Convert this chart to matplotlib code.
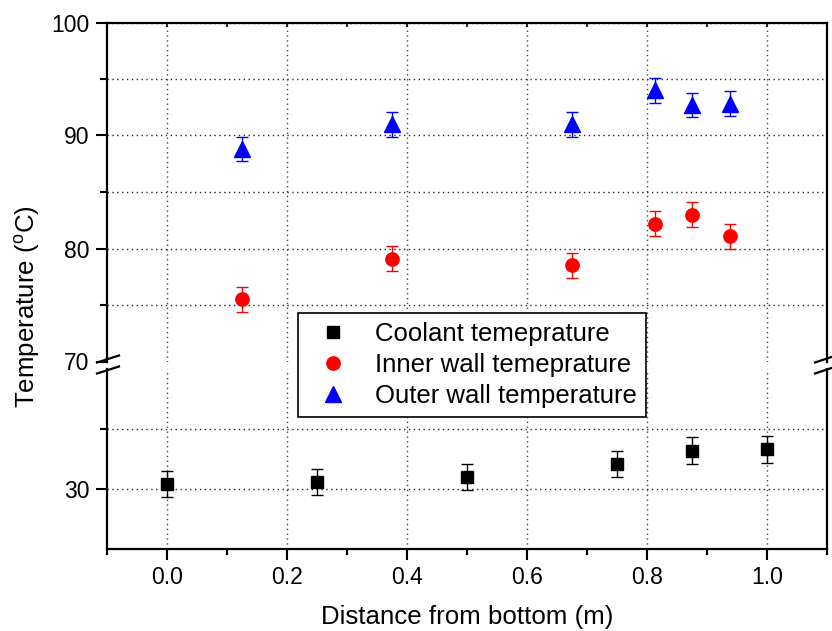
import numpy as np
import matplotlib
matplotlib.use('Agg')
import matplotlib.pyplot as plt
from matplotlib.lines import Line2D
from matplotlib.ticker import FixedLocator, MultipleLocator, FormatStrFormatter

plt.rcParams['font.family'] = ['Liberation Sans', 'DejaVu Sans']
plt.rcParams['mathtext.fontset'] = 'custom'
plt.rcParams['mathtext.rm'] = 'Liberation Sans'

# measured temperatures along the channel
coolant_x = [0.0, 0.25, 0.5, 0.75, 0.875, 1.0]
coolant_t = [30.4, 30.6, 31.0, 32.1, 33.2, 33.3]
coolant_err = [1.1, 1.1, 1.1, 1.1, 1.1, 1.1]

wall_x = [0.125, 0.375, 0.675, 0.8125, 0.875, 0.9375]
inner_t = [75.5, 79.1, 78.5, 82.2, 83.0, 81.1]
inner_err = [1.1, 1.1, 1.1, 1.1, 1.1, 1.1]
outer_t = [88.8, 91.0, 91.0, 94.0, 92.7, 92.8]
outer_err = [1.1, 1.1, 1.1, 1.1, 1.1, 1.1]

labels = ['Coolant temeprature', 'Inner wall temeprature', 'Outer wall temperature']

W, H = 832, 631
fig = plt.figure(figsize=(W / 100, H / 100), dpi=100)


def fx(px):
    return px / W


def fy(py):
    return 1 - py / H


left, right = fx(107), fx(827)
ax_hi = fig.add_axes([left, fy(361.5), right - left, fy(22.5) - fy(361.5)])
ax_lo = fig.add_axes([left, fy(549), right - left, fy(369) - fy(549)])

style = dict(linestyle='none', capsize=4.3, elinewidth=1, capthick=1)
for ax in (ax_hi, ax_lo):
    ax.errorbar(coolant_x, coolant_t, yerr=coolant_err, marker='s', ms=8.2,
                color='black', ecolor='black', **style)
    ax.errorbar(wall_x, inner_t, yerr=inner_err, marker='o', ms=9.6,
                color='#ff0000', ecolor='#ff0000', **style)
    ax.errorbar(wall_x, outer_t, yerr=outer_err, marker='^', ms=11,
                color='#0000ff', ecolor='#0000ff', **style)
    ax.set_xlim(-0.1, 1.1)
    ax.xaxis.set_major_locator(MultipleLocator(0.2))
    ax.xaxis.set_minor_locator(MultipleLocator(0.1))
    for s in ax.spines.values():
        s.set_linewidth(1.6)
    ax.tick_params(axis='y', which='both', direction='out', right=False,
                   width=1.5, labelsize=16.5, pad=5)
    ax.tick_params(axis='y', which='major', length=7.7)
    ax.tick_params(axis='y', which='minor', length=5)
    ax.grid(True, axis='x', which='major', linestyle=(0, (1, 2.5)), color='0.25', lw=1)
    ax.grid(True, axis='y', which='both', linestyle=(0, (1, 2.5)), color='0.15', lw=1)
    ax.set_axisbelow(True)

ax_hi.set_ylim(70, 100)
ax_hi.yaxis.set_major_locator(FixedLocator([70, 80, 90, 100]))
ax_hi.yaxis.set_minor_locator(FixedLocator([75, 85, 95]))
ax_hi.spines['bottom'].set_visible(False)
ax_hi.tick_params(axis='x', which='both', bottom=False, labelbottom=False,
                  top=True, direction='in', length=3, width=1.2)
ax_hi.yaxis.get_major_ticks()[0].gridline.set_visible(False)

ax_lo.set_ylim(25, 40)
ax_lo.yaxis.set_major_locator(FixedLocator([30]))
ax_lo.yaxis.set_minor_locator(FixedLocator([35]))
ax_lo.spines['top'].set_visible(False)
ax_lo.tick_params(axis='x', which='both', top=False, direction='out',
                  width=1.5, labelsize=16.5, pad=4)
ax_lo.tick_params(axis='x', which='major', length=8)
ax_lo.tick_params(axis='x', which='minor', length=4.5)
ax_lo.xaxis.set_major_formatter(FormatStrFormatter('%.1f'))

# axis break marks on both sides
for x0, x1 in ((97, 119), (815, 836)):
    for y0 in (362.5, 373.5):
        fig.add_artist(Line2D([fx(x0), fx(x1)], [fy(y0), fy(y0 - 7)],
                              color='black', lw=1.6, transform=fig.transFigure))

fig.text(fx(467), fy(624), 'Distance from bottom (m)', ha='center', va='baseline',
         fontsize=18.6)
fig.text(fx(35), fy(307), 'Temperature ($^{\\mathrm{o}}$C)', ha='center', va='baseline',
         rotation=90, rotation_mode='anchor', fontsize=18.6)

handles = [
    Line2D([], [], ls='none', marker='s', ms=8.2, color='black'),
    Line2D([], [], ls='none', marker='o', ms=9.6, color='#ff0000'),
    Line2D([], [], ls='none', marker='^', ms=11, color='#0000ff'),
]
leg = fig.legend(handles, labels, loc='upper left',
                 bbox_to_anchor=(fx(298), fy(313)), fontsize=18.5,
                 frameon=True, fancybox=False, edgecolor='black', framealpha=1,
                 borderpad=0.35, labelspacing=0.27, handlelength=2.05,
                 handletextpad=0.6, borderaxespad=0)
leg.get_frame().set_linewidth(1.2)

fig.savefig('out.png', dpi=100)
